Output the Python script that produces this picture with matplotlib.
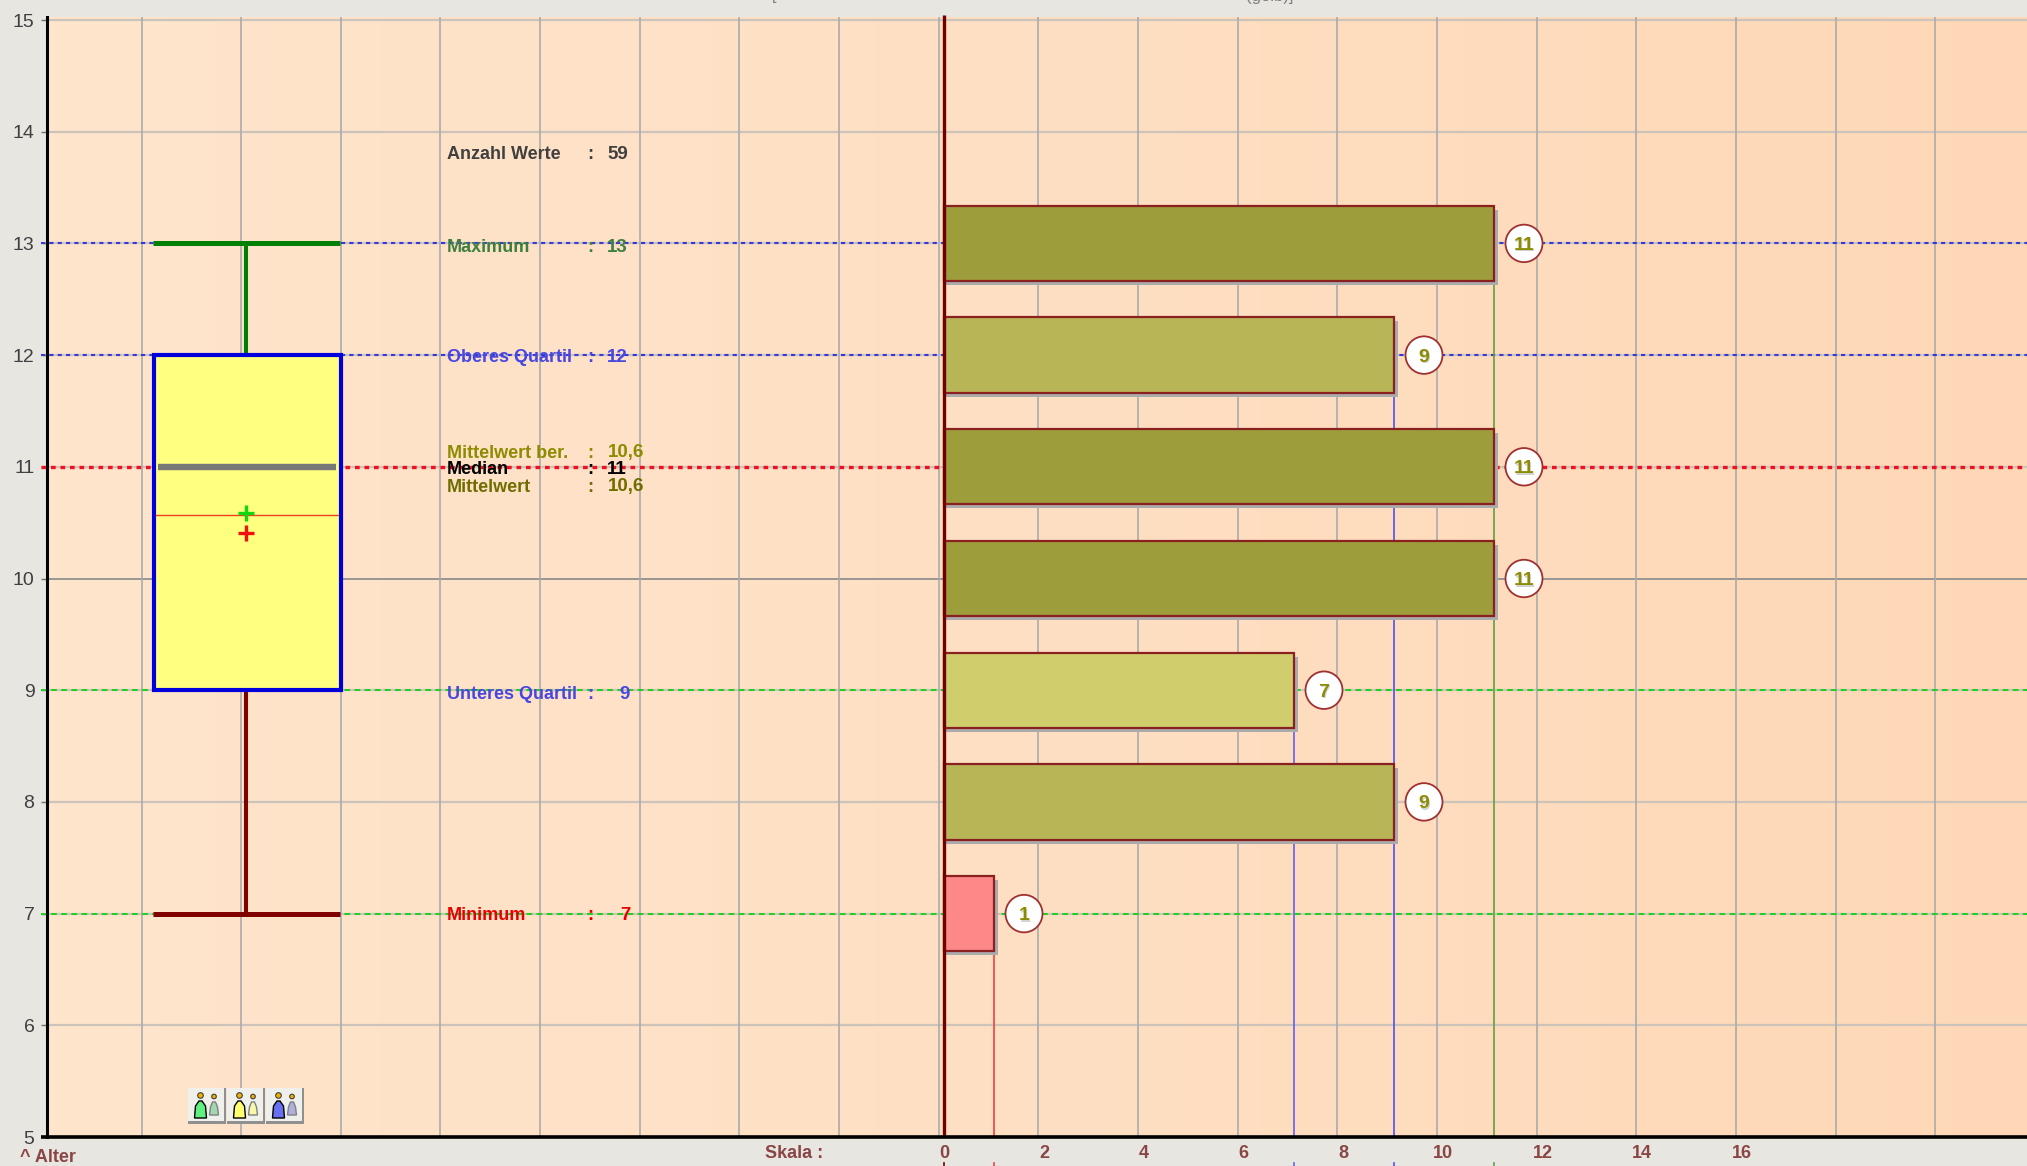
import numpy as np
import matplotlib
matplotlib.use('Agg')
import matplotlib.pyplot as plt
from matplotlib.colors import LinearSegmentedColormap
from matplotlib.patches import Rectangle, Ellipse, Polygon

# Data
ages = [7, 8, 9, 10, 11, 12, 13]
counts = [1, 9, 7, 11, 11, 9, 11]
bar_colors = ['#FC8888', '#B7B556', '#CFCD6C', '#9E9D3C', '#9E9D3C', '#B7B556', '#9E9D3C']
y_ticks = [5, 6, 7, 8, 9, 10, 11, 12, 13, 14, 15]
scale_ticks = [0, 2, 4, 6, 8, 10, 12, 14, 16]

box_min = 7
box_q1 = 9
box_median = 11
box_q3 = 12
box_max = 13
box_mean_line = 10.57
mean_green = 10.59
mean_red = 10.41

stat_labels = ['Anzahl Werte', 'Maximum', 'Oberes Quartil', 'Mittelwert ber.', 'Median',
               'Mittelwert', 'Unteres Quartil', 'Minimum']
stat_values = ['59', '13', '12', '10,6', '11', '10,6', '9', '7']
stat_colors = ['#404040', '#3F803F', '#4848E0', '#8C8C00', '#000000', '#6E6E00', '#4848E0', '#E80000']
stat_rows = [152, 245, 355, 451, 468, 485, 692, 914]
stat_value_x = [607, 607, 607, 608, 607, 608, 619, 620]

icon_colors = [('#60F080', '#A0D8B0'), ('#FFFF70', '#F8F8A8'), ('#6870F0', '#B0B0E0')]

W, H = 2027, 1166
FONT = 'Liberation Sans'


# pixel position in the screenshot -> axis values
def X(px):
    return (px - 944) / 50.0


def Y(py):
    return 5 + (1137 - py) / 111.7


fig = plt.figure(figsize=(W / 100, H / 100), dpi=100, facecolor='#E7E6E1')
ax = fig.add_axes([47 / W, (H - 1137) / H, (W - 47) / W, (1137 - 17) / H])
ax.set_xlim(X(47), X(W))
ax.set_ylim(5, Y(17))

# background gradient
cmap = LinearSegmentedColormap.from_list('bg', ['#FFE5CC', '#FEDFC3', '#FED8B6'])
ax.imshow(np.linspace(0, 1, 256).reshape(1, -1), cmap=cmap, aspect='auto', zorder=0,
          extent=[X(47), X(W), 5, Y(17)])

# grid
for age in y_ticks:
    if age == 10:
        ax.axhline(age, color='#909090', lw=1.3, zorder=1)
    else:
        ax.axhline(age, color='#CCC4BA', lw=1.6, zorder=1)
for k in range(20):
    ax.axvline(X(141.5 + 99.65 * k), color='#ABABAB', lw=1.2, zorder=1)

# reference lines, they start left of the axis
line_x = [X(41), X(W)]
ax.plot(line_x, [box_max, box_max], color='#3838D8', lw=1.5, ls=(0, (2, 2)), zorder=2, clip_on=False)
ax.plot(line_x, [box_q3, box_q3], color='#3838D8', lw=1.5, ls=(0, (2, 2)), zorder=2, clip_on=False)
ax.plot(line_x, [box_median, box_median], color='#F01020', lw=2.4, ls=(0, (1.4, 1.45)), zorder=2, clip_on=False)
ax.plot(line_x, [box_q1, box_q1], color='#20D020', lw=1.4, ls=(0, (3, 2.2)), zorder=2, clip_on=False)
ax.plot(line_x, [box_min, box_min], color='#20D020', lw=1.4, ls=(0, (3, 2.2)), zorder=2, clip_on=False)

# drop lines from the bars to the scale
ax.plot([1, 1], [5, 7], color='#F04040', lw=1.2, zorder=3)
ax.plot([7, 7], [5, 9], color='#6060F0', lw=1.2, zorder=3)
ax.plot([9, 9], [5, 12], color='#5050F0', lw=1.2, zorder=3)
ax.plot([11, 11], [5, 13], color='#60A040', lw=1.2, zorder=3)

# histogram bars
bar_h = 0.675
ax.barh([a - 4 / 111.7 for a in ages], [c + 0.08 for c in counts], height=bar_h, color='#ABABAB',
        edgecolor='none', zorder=4, left=0)
ax.barh(ages, counts, height=bar_h, color=bar_colors, edgecolor='#8B2020', linewidth=1.6, zorder=5)

# value bubbles
for age, count in zip(ages, counts):
    ax.add_patch(Ellipse((count + 0.6, age), 37 / 50, 37.5 / 111.7, facecolor='white',
                         edgecolor='#A03030', lw=1.3, zorder=6))
    ax.text(count + 0.6 + 1 / 50, age - 1.5 / 111.7, str(count), color='#D0D0D0', fontsize=14,
            fontweight='bold', family=FONT, ha='center', va='center_baseline', zorder=7)
    ax.text(count + 0.6, age, str(count), color='#8C8C00', fontsize=14, fontweight='bold',
            family=FONT, ha='center', va='center_baseline', zorder=7)

# box plot
box_l, box_c, box_r = X(154), X(246), X(340.5)
ax.plot([box_c, box_c], [box_q3, box_max], color='#008000', lw=2.9, zorder=4, solid_capstyle='butt')
ax.plot([box_c, box_c], [box_min, box_q1], color='#800000', lw=2.9, zorder=4, solid_capstyle='butt')
ax.plot([X(153), X(340)], [box_max, box_max], color='#008000', lw=3.6, zorder=4, solid_capstyle='butt')
ax.plot([X(153), X(340)], [box_min, box_min], color='#800000', lw=3.6, zorder=4, solid_capstyle='butt')
ax.add_patch(Rectangle((box_l, box_q1), box_r - box_l, box_q3 - box_q1, facecolor='#FFFF80',
                       edgecolor='#0000DC', lw=3.0, zorder=5))
ax.plot([X(158), X(336)], [box_median, box_median], color='#787878', lw=4.6, zorder=6,
        solid_capstyle='butt')
ax.plot([X(156), X(338)], [box_mean_line, box_mean_line], color='#F04020', lw=1.0, zorder=6)
ax.plot([box_c], [mean_green], marker='+', ms=11.5, mew=2.4, color='#10D810', zorder=7)
ax.plot([box_c], [mean_red], marker='+', ms=11.5, mew=2.4, color='#F01010', zorder=7)

# zero line of the scale
ax.plot([0, 0], [5, Y(15)], color='#700000', lw=2.4, zorder=8, clip_on=False, solid_capstyle='butt')

# statistics block
for label, value, color, row, vx in zip(stat_labels, stat_values, stat_colors, stat_rows, stat_value_x):
    ax.text(X(447), Y(row), label, color=color, fontsize=13, fontweight='bold', family=FONT,
            va='center_baseline', ha='left', zorder=9)
    ax.text(X(590), Y(row), ':', color=color, fontsize=13, fontweight='bold', family=FONT,
            va='center_baseline', ha='center', zorder=9)
    ax.text(X(vx), Y(row), value, color=color, fontsize=13.5, fontweight='bold', family=FONT,
            va='center_baseline', ha='left', zorder=9)

# small buttons with the people icons
for i, (dark, light) in enumerate(icon_colors):
    bx = 188 + 39 * i
    ax.add_patch(Rectangle((X(bx), Y(1124)), 38 / 50, 36 / 111.7, facecolor='#909090', edgecolor='none', zorder=4))
    ax.add_patch(Rectangle((X(bx), Y(1121)), 35.5 / 50, 33 / 111.7, facecolor='#EFEFEB', edgecolor='none', zorder=4))
    for cx, top, bottom, half, head_r, fill, edge in [(bx + 12.5, 1101, 1118, 6, 2.8, dark, '#000000'),
                                                      (bx + 26, 1102, 1115, 4.5, 2.3, light, '#808080')]:
        ax.add_patch(Polygon([(X(cx - half), Y(bottom)), (X(cx - half + 1), Y(top + 5)), (X(cx - 1.5), Y(top)),
                              (X(cx + 1.5), Y(top)), (X(cx + half - 1), Y(top + 5)), (X(cx + half), Y(bottom))],
                             facecolor=fill, edgecolor=edge, lw=1.0, zorder=5))
        ax.add_patch(Ellipse((X(cx), Y(top - 5.5)), 2 * head_r / 50, 2 * head_r / 111.7, facecolor='#F0B000',
                             edgecolor='#404040', lw=0.8, zorder=5))

# axes
for side in ['top', 'right']:
    ax.spines[side].set_visible(False)
ax.spines['left'].set_linewidth(2.2)
ax.spines['left'].set_zorder(10)
ax.spines['bottom'].set_visible(False)
ax.plot([X(41), X(W)], [5, 5], color='#000000', lw=2.6, clip_on=False, zorder=10, solid_capstyle='butt')

ax.set_yticks(y_ticks)
ax.set_yticklabels([str(t) for t in y_ticks], fontsize=14, family=FONT, color='#404040')
ax.tick_params(axis='y', length=4, width=1.0, color='#707070', pad=5)
# the scale labels sit a little off the bar scale in the original
ax.set_xticks([X(944.5 + 99.65 * i) for i in range(len(scale_ticks))])
ax.set_xticklabels([str(t) for t in scale_ticks], fontsize=13, fontweight='bold', family=FONT, color='#8A4545')
ax.tick_params(axis='x', length=0, pad=6)

# text outside of the plot
fig.text(20 / W, 1 - 1158 / H, '^ Alter', color='#8A4545', fontsize=13, fontweight='bold', family=FONT, va='center')
fig.text(765 / W, 1 - 1153 / H, 'Skala :', color='#8A4545', fontsize=13, fontweight='bold', family=FONT, va='center')
fig.text(772 / W, 1 - 0 / H, '[', color='#808080', fontsize=12, family=FONT, va='baseline')
fig.text(1293 / W, 1 - 1 / H, '(gelb)]', color='#808080', fontsize=12, family=FONT, va='baseline', ha='right')

# cut off marks on the lower edge
for v, c in zip([0, 1, 7, 9, 11], ['#700000', '#F04040', '#6060F0', '#5050F0', '#60A040']):
    ax.plot([v, v], [Y(1163), Y(1166)], color=c, lw=1.2, clip_on=False, zorder=3)

fig.savefig('out.png', dpi=100, facecolor=fig.get_facecolor())
